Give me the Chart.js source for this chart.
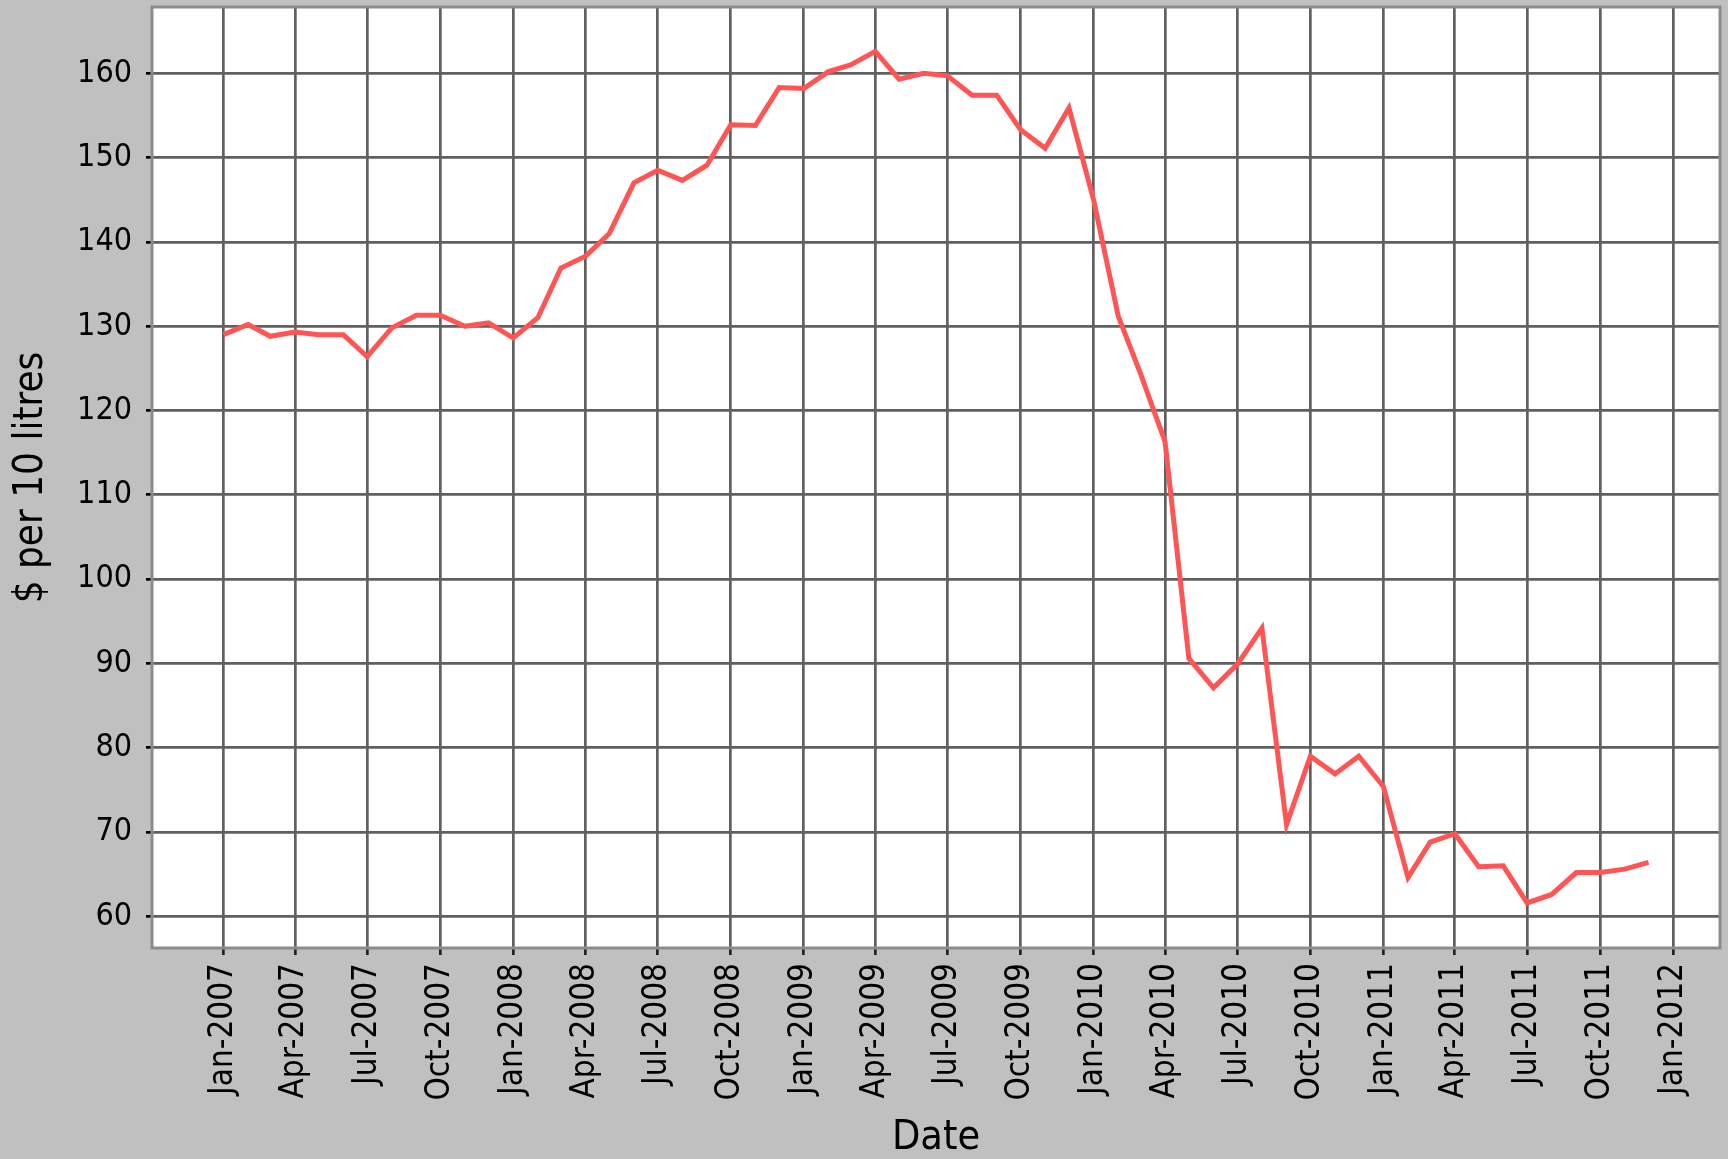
<!DOCTYPE html>
<html>
<head>
<meta charset="utf-8">
<script src="https://cdn.jsdelivr.net/npm/chart.js@4.4.1/dist/chart.umd.min.js"></script>
<style>
html,body{margin:0;padding:0;background:#c0c0c0;}
canvas{display:block;}
</style>
</head>
<body>
<canvas id="canvasPrice" width="1728" height="1159"></canvas>
<script>

let months=[
 'Jan-2007','Feb-2007','Mar-2007','Apr-2007','May-2007','Jun-2007','Jul-2007','Aug-2007','Sep-2007','Oct-2007','Nov-2007','Dec-2007',
 'Jan-2008','Feb-2008','Mar-2008','Apr-2008','May-2008','Jun-2008','Jul-2008','Aug-2008','Sep-2008','Oct-2008','Nov-2008','Dec-2008',
 'Jan-2009','Feb-2009','Mar-2009','Apr-2009','May-2009','Jun-2009','Jul-2009','Aug-2009','Sep-2009','Oct-2009','Nov-2009','Dec-2009',
 'Jan-2010','Feb-2010','Mar-2010','Apr-2010','May-2010','Jun-2010','Jul-2010','Aug-2010','Sep-2010','Oct-2010','Nov-2010','Dec-2010',
 'Jan-2011','Feb-2011','Mar-2011','Apr-2011','May-2011','Jun-2011','Jul-2011','Aug-2011','Sep-2011','Oct-2011','Nov-2011','Dec-2011'
]

let prices=[
 129.0,130.2,128.8,129.3,129.0,129.0,126.4,129.8,131.3,131.3,130.0,130.4,
 128.6,131.0,136.9,138.3,141.0,147.0,148.5,147.3,149.1,153.9,153.8,158.3,
 158.2,160.2,161.0,162.6,159.3,160.0,159.7,157.4,157.4,153.3,151.1,155.9,
 145.0,131.2,124.4,116.3,90.6,87.1,89.9,94.2,70.9,79.0,76.9,79.0,
 75.4,64.6,68.8,69.8,65.9,66.0,61.6,62.6,65.2,65.2,65.6,66.4
]

let xTickLabels=[
 'Jan-2007','Apr-2007','Jul-2007','Oct-2007',
 'Jan-2008','Apr-2008','Jul-2008','Oct-2008',
 'Jan-2009','Apr-2009','Jul-2009','Oct-2009',
 'Jan-2010','Apr-2010','Jul-2010','Oct-2010',
 'Jan-2011','Apr-2011','Jul-2011','Oct-2011',
 'Jan-2012'
]

let yTicks=[60,70,80,90,100,110,120,130,140,150,160]

// axis bounds (first and last day shown), y bounds
let xRange=['2006-10-03','2012-02-29']
let yRange=[56.25,167.86]

let monNames=['Jan','Feb','Mar','Apr','May','Jun','Jul','Aug','Sep','Oct','Nov','Dec']
let day0=Date.UTC(2007,0,1)

function monthToDay(label){
    let p=label.split('-')
    return (Date.UTC(+p[1],monNames.indexOf(p[0]),1)-day0)/864e5
}

function isoToDay(s){
    let p=s.split('-')
    return (Date.UTC(+p[0],+p[1]-1,+p[2])-day0)/864e5
}

function buildPoints(){
    let arr=[]
    for (let i=0;i<months.length;i++){
        arr.push({x:monthToDay(months[i]),y:prices[i]})
    }
    return arr
}

let fam="'DejaVu Sans Condensed','DejaVu Sans',sans-serif"

let plotBg={
    id:'plotBg',
    beforeDraw(chart){
        let ctx=chart.ctx
        let a=chart.chartArea
        ctx.save()
        ctx.fillStyle='#c0c0c0'
        ctx.fillRect(0,0,chart.width,chart.height)
        ctx.fillStyle='#ffffff'
        ctx.fillRect(a.left,a.top,a.right-a.left,a.bottom-a.top)
        ctx.restore()
    },
    afterDraw(chart){
        let ctx=chart.ctx
        let a=chart.chartArea
        ctx.save()
        ctx.strokeStyle='#8c8c8c'
        ctx.lineWidth=3
        ctx.strokeRect(a.left,a.top,a.right-a.left,a.bottom-a.top)
        ctx.restore()
    }
}

function noPad(scale){
    scale.paddingTop=0
    scale.paddingBottom=0
    scale.paddingLeft=0
    scale.paddingRight=0
}

function buildPriceChart(){

    let myChart={
        type:'line',
        data:{
            datasets:[{
                label:'Price',
                data:buildPoints(),
                borderColor:'rgb(255, 85, 85)',
                borderWidth:5,
                pointRadius:0,
                fill:false,
                tension:0
            }]
        },
        options:{
            responsive:false,
            animation:false,
            events:[],
            layout:{padding:{top:7,right:8,left:0,bottom:0}},
            plugins:{
                legend:{display:false},
                tooltip:{enabled:false}
            },
            scales:{
                x:{
                    type:'linear',
                    min:isoToDay(xRange[0]),
                    max:isoToDay(xRange[1]),
                    afterBuildTicks(scale){
                        scale.ticks=xTickLabels.map(l=>({value:monthToDay(l)}))
                    },
                    afterFit(scale){
                        scale.height=211
                        noPad(scale)
                    },
                    grid:{color:'#606060',lineWidth:2.7,tickColor:'#222',tickLength:7,tickWidth:2.7},
                    border:{display:false},
                    ticks:{
                        autoSkip:false,
                        minRotation:90,
                        maxRotation:90,
                        padding:8,
                        color:'#000',
                        font:{family:fam,size:33},
                        callback:(v,i)=>xTickLabels[i]
                    },
                    title:{
                        display:true,
                        text:'Date',
                        color:'#000',
                        font:{family:fam,size:41,lineHeight:1},
                        padding:{top:0,bottom:0}
                    }
                },
                y:{
                    min:yRange[0],
                    max:yRange[1],
                    afterBuildTicks(scale){
                        scale.ticks=yTicks.map(v=>({value:v}))
                    },
                    afterFit(scale){
                        scale.width=152
                        noPad(scale)
                    },
                    grid:{color:'#606060',lineWidth:2.7,tickColor:'#000',tickLength:6,tickWidth:2.7},
                    border:{display:false},
                    ticks:{
                        padding:14,
                        color:'#000',
                        font:{family:fam,size:32}
                    },
                    title:{
                        display:true,
                        text:'$ per 10 litres',
                        color:'#000',
                        font:{family:fam,size:40,lineHeight:1},
                        padding:{top:12,bottom:0}
                    }
                }
            }
        },
        plugins:[plotBg]
    }

    let ctx=document.getElementById('canvasPrice').getContext('2d')
    new Chart(ctx,myChart)
}

buildPriceChart()

</script>
</body>
</html>
